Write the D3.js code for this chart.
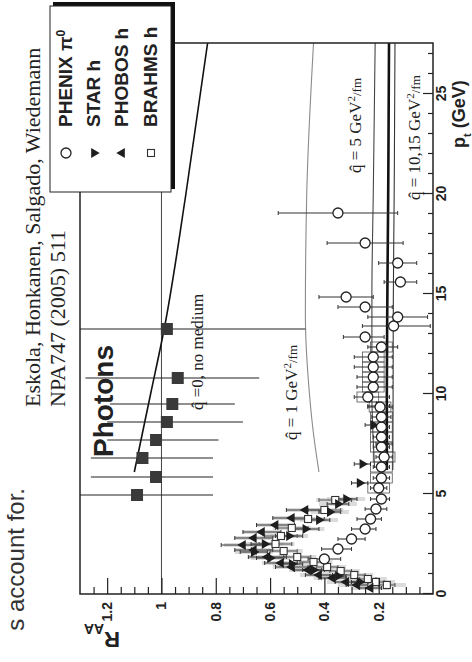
<!DOCTYPE html>
<html>
<head>
<meta charset="utf-8">
<script src="https://cdn.jsdelivr.net/npm/d3@7"></script>
<style>
body { margin: 0; background: #fff; }
svg { display: block; }
.serif { font-family: "Liberation Serif", "DejaVu Serif", serif; fill: #222; }
.sans { font-family: "Liberation Sans", Arial, sans-serif; font-weight: bold; fill: #222; }
</style>
</head>
<body>
<svg id="chart" width="472" height="662"></svg>
<script>
// ---- data (pT in GeV, R_AA) ----
var photonPt = [4.95, 5.85, 6.8, 7.7, 8.6, 9.5, 10.8, 13.25];
var photonR  = [1.09, 1.02, 1.07, 1.02, 0.98, 0.96, 0.94, 0.98];
var photonLo = [0.81, 0.81, 0.81, 0.79, 0.70, 0.73, 0.64, 0.47];
var photonHi = [1.40, 1.26, 1.26, 1.20, 1.20, 1.19, 1.28, 1.40];

var phenixPt = [1.75, 2.25, 2.75, 3.25, 3.75, 4.25, 4.75, 5.3, 5.8, 6.35, 6.85, 7.35, 7.85, 8.35, 8.85, 9.35, 9.85,
	10.35, 10.85, 11.35, 11.85, 12.35, 12.85, 13.4, 13.85, 14.35, 14.85, 15.6, 16.55, 17.55, 19.05];
var phenixR  = [0.40, 0.35, 0.30, 0.25, 0.23, 0.21, 0.19, 0.20, 0.19, 0.19, 0.18, 0.19, 0.19, 0.19, 0.19, 0.195, 0.24,
	0.22, 0.22, 0.22, 0.22, 0.19, 0.25, 0.145, 0.13, 0.25, 0.32, 0.12, 0.13, 0.25, 0.35];
var phenixLo = [0.34, 0.30, 0.25, 0.21, 0.19, 0.17, 0.16, 0.17, 0.16, 0.16, 0.15, 0.16, 0.16, 0.16, 0.155, 0.15, 0.16,
	0.15, 0.15, 0.15, 0.15, 0.13, 0.18, 0.01, 0.02, 0.15, 0.22, 0.06, 0.06, 0.11, 0.13];
var phenixHi = [0.46, 0.41, 0.35, 0.30, 0.28, 0.25, 0.23, 0.23, 0.22, 0.22, 0.21, 0.22, 0.22, 0.22, 0.225, 0.24, 0.29,
	0.28, 0.28, 0.29, 0.29, 0.24, 0.33, 0.26, 0.24, 0.35, 0.42, 0.18, 0.20, 0.39, 0.57];

var starPt  = [0.6, 0.9, 1.2, 1.5, 1.8, 2.1, 2.5, 2.9, 3.25, 3.7, 4.1, 4.5, 4.75, 5.55, 6.5, 7.5, 8.45, 9.4];
var starR   = [0.27, 0.35, 0.44, 0.52, 0.60, 0.66, 0.62, 0.53, 0.47, 0.42, 0.38, 0.35, 0.32, 0.27, 0.26, 0.18, 0.22, 0.20];
var starErr = [0.03, 0.03, 0.04, 0.04, 0.05, 0.05, 0.05, 0.05, 0.05, 0.04, 0.04, 0.04, 0.04, 0.03, 0.03, 0.03, 0.03, 0.04];

var phobosPt  = [0.3, 0.45, 0.6, 0.8, 0.95, 1.2, 1.35, 1.55, 1.85, 2.2, 2.45, 2.8, 3.1, 3.45, 3.8, 4.2];
var phobosR   = [0.23, 0.28, 0.32, 0.37, 0.42, 0.46, 0.52, 0.56, 0.61, 0.66, 0.70, 0.66, 0.63, 0.58, 0.52, 0.47];
var phobosErr = [0.04, 0.04, 0.04, 0.05, 0.05, 0.05, 0.06, 0.06, 0.07, 0.07, 0.08, 0.07, 0.07, 0.07, 0.07, 0.07];

var brahmsPt  = [0.45, 0.6, 0.75, 0.95, 1.15, 1.35, 1.6, 1.85, 2.15, 2.5, 2.9, 3.3, 3.75, 4.2, 4.7];
var brahmsR   = [0.17, 0.21, 0.24, 0.29, 0.34, 0.39, 0.44, 0.50, 0.55, 0.58, 0.56, 0.52, 0.46, 0.40, 0.36];
var brahmsErr = [0.03, 0.03, 0.03, 0.04, 0.04, 0.04, 0.05, 0.05, 0.05, 0.06, 0.06, 0.06, 0.06, 0.06, 0.06];

// theory curves
var noMedPt = [6.1, 10, 13.25, 20, 27.55];
var noMedR  = [1.10, 1.04, 0.99, 0.91, 0.83];
var q1Pt = [6.1, 8, 10, 14, 20, 27.55];
var q1R  = [0.42, 0.44, 0.455, 0.47, 0.465, 0.44];
var q5Pt = [6.3, 10, 15, 20, 27.55];
var q5R  = [0.215, 0.225, 0.225, 0.22, 0.213];
var q10Pt = [6.2, 10, 15, 20, 27.55];
var q10R  = [0.17, 0.17, 0.168, 0.165, 0.162];
var q15Pt = [6.2, 10, 15, 20, 27.55];
var q15R  = [0.148, 0.147, 0.146, 0.143, 0.14];

var ptMajor = [0, 5, 10, 15, 20, 25];
var rMajor = [0.2, 0.4, 0.6, 0.8, 1, 1.2];
var legendNames = ["PHENIX \u03c0", "STAR h", "PHOBOS h", "BRAHMS h"];

// ---- chart ----
var svg = d3.select("#chart");
var W = 551, H = 353;
var x = d3.scaleLinear().domain([0, 27.55]).range([0, W]);
var y = d3.scaleLinear().domain([0, 1.3]).range([H, 0]);

// slide shows the figure turned on its side: draw it upright then rotate 90deg ccw
var g = svg.append("g").attr("transform", "translate(80,594) rotate(-90)");

g.append("defs").append("clipPath").attr("id", "plotclip")
	.append("rect").attr("width", W).attr("height", H);

var zip = function(a, b, c, d) {
	return a.map(function(v, i) { return {pt: v, r: b[i], lo: c ? c[i] : null, hi: d ? d[i] : null}; });
};
var symErr = function(a, b, e) {
	return a.map(function(v, i) { return {pt: v, r: b[i], lo: b[i] - e[i], hi: b[i] + e[i]}; });
};

var photons = zip(photonPt, photonR, photonLo, photonHi);
var phenix = zip(phenixPt, phenixR, phenixLo, phenixHi);
var star = symErr(starPt, starR, starErr);
var phobos = symErr(phobosPt, phobosR, phobosErr);
var brahms = symErr(brahmsPt, brahmsR, brahmsErr);

var plot = g.append("g").attr("clip-path", "url(#plotclip)");

// gray systematic boxes of the low pT hadrons
plot.selectAll(".sysbox").data(phobos.concat(star.filter(d => d.pt < 5), brahms)).enter()
	.append("rect").classed("sysbox", true)
	.attr("x", d => x(d.pt - 0.1))
	.attr("width", x(0.2) - x(0))
	.attr("y", d => y(d.r + 0.07))
	.attr("height", y(0) - y(0.14))
	.style("fill", "#bdbdbd").style("opacity", 0.55);

// PHENIX boxes
plot.selectAll(".pbox").data(phenix.filter(d => d.pt > 5 && d.pt < 12.5)).enter()
	.append("rect").classed("pbox", true)
	.attr("x", d => x(d.pt - 0.25))
	.attr("width", x(0.5) - x(0))
	.attr("y", d => y(d.r + 0.04))
	.attr("height", y(0) - y(0.08))
	.style("fill", "none").style("stroke", "#555").style("stroke-width", 0.8);

// R_AA = 1 reference
plot.append("line")
	.attr("x1", 0).attr("x2", W).attr("y1", y(1)).attr("y2", y(1))
	.style("stroke", "#444").style("stroke-width", 1);

// theory curves
var curve = d3.line().x(d => x(d[0])).y(d => y(d[1])).curve(d3.curveMonotoneX);
var pairs = function(a, b) { return a.map((v, i) => [v, b[i]]); };
var theory = [
	{p: pairs(noMedPt, noMedR), c: "#111", w: 1.6},
	{p: pairs(q1Pt, q1R), c: "#8a8a8a", w: 1.1},
	{p: pairs(q5Pt, q5R), c: "#444", w: 1.1},
	{p: pairs(q10Pt, q10R), c: "#111", w: 2.6},
	{p: pairs(q15Pt, q15R), c: "#333", w: 1.1}
];
plot.selectAll(".theory").data(theory).enter()
	.append("path").classed("theory", true)
	.attr("d", d => curve(d.p))
	.style("fill", "none")
	.style("stroke", d => d.c)
	.style("stroke-width", d => d.w);

// error bars
var drawBars = function(data, cls, cap, col) {
	var bars = plot.selectAll("." + cls).data(data).enter().append("g").classed(cls, true);
	bars.append("line")
		.attr("x1", d => x(d.pt)).attr("x2", d => x(d.pt))
		.attr("y1", d => y(d.lo)).attr("y2", d => y(Math.min(d.hi, 1.3)))
		.style("stroke", col).style("stroke-width", 1.1);
	if (cap) {
		["lo", "hi"].forEach(function(k) {
			bars.append("line")
				.attr("x1", d => x(d.pt) - cap).attr("x2", d => x(d.pt) + cap)
				.attr("y1", d => y(d[k])).attr("y2", d => y(d[k]))
				.style("stroke", col).style("stroke-width", 1);
		});
	}
};
drawBars(photons, "pbar", 0, "#222");
drawBars(phobos, "phbar", 2, "#333");
drawBars(star, "sbar", 2, "#333");
drawBars(brahms, "bbar", 2, "#555");
drawBars(phenix, "xbar", 2, "#333");

// markers
var tri = d3.symbol().type(d3.symbolTriangle).size(42);
var drawMarkers = function(sel, data, kind) {
	var m = sel.selectAll(".m" + kind).data(data).enter();
	if (kind == "phenix") {
		m.append("circle").attr("cx", d => x(d.pt)).attr("cy", d => y(d.r)).attr("r", 5)
			.style("fill", "#fff").style("stroke", "#222").style("stroke-width", 1.3);
	} else if (kind == "star" || kind == "phobos") {
		m.append("path").attr("d", tri)
			.attr("transform", d => "translate(" + x(d.pt) + "," + y(d.r) + ")" + (kind == "star" ? " rotate(180)" : ""))
			.style("fill", "#1e1e1e");
	} else if (kind == "brahms") {
		m.append("rect").attr("x", d => x(d.pt) - 3.5).attr("y", d => y(d.r) - 3.5)
			.attr("width", 7).attr("height", 7)
			.style("fill", "#fff").style("stroke", "#333").style("stroke-width", 1.1);
	} else {
		m.append("rect").attr("x", d => x(d.pt) - 6).attr("y", d => y(d.r) - 6)
			.attr("width", 12).attr("height", 12)
			.style("fill", "#3a3a3a");
	}
};
drawMarkers(plot, brahms, "brahms");
drawMarkers(plot, phobos, "phobos");
drawMarkers(plot, star, "star");
drawMarkers(plot, phenix, "phenix");
drawMarkers(plot, photons, "photon");

// frame
g.append("rect").attr("width", W).attr("height", H)
	.style("fill", "none").style("stroke", "#222").style("stroke-width", 1.5);

// axes, ticks point inwards
var styleAxis = function(a) {
	a.select(".domain").remove();
	a.selectAll("line").style("stroke", "#222").style("stroke-width", 1.2);
	a.selectAll("text").attr("class", "sans").style("font-size", "14px");
};
g.append("g").attr("transform", "translate(0," + H + ")")
	.call(d3.axisBottom(x).tickValues(ptMajor).tickSize(-10).tickPadding(3))
	.call(styleAxis);
g.append("g").attr("transform", "translate(0," + H + ")")
	.call(d3.axisBottom(x).tickValues(d3.range(1, 28).filter(v => v % 5)).tickSize(-5).tickFormat(""))
	.call(styleAxis);
g.append("g")
	.call(d3.axisLeft(y).tickValues(rMajor).tickSize(-16).tickPadding(8)
		.tickFormat(d => d == 1 ? "1" : d3.format(".1f")(d)))
	.call(styleAxis);
g.append("g")
	.call(d3.axisLeft(y).tickValues(d3.range(1, 26).map(v => v * 0.05).filter(v => Math.abs(v * 5 - Math.round(v * 5)) > 0.01))
		.tickSize(-7).tickFormat(""))
	.call(styleAxis);

// axis titles
var rl = g.append("text").attr("class", "sans")
	.attr("transform", "translate(-38,40) rotate(-90)")
	.style("font-size", "22px");
rl.append("tspan").text("R");
rl.append("tspan").attr("baseline-shift", "sub").style("font-size", "14px").text("AA");

var pl = g.append("text").attr("class", "sans")
	.attr("x", 446).attr("y", 385)
	.style("font-size", "18px");
pl.append("tspan").text("p");
pl.append("tspan").attr("baseline-shift", "sub").style("font-size", "11px").text("t");
pl.append("tspan").text(" (GeV)");

// annotations
g.append("text").attr("class", "serif").attr("x", 187).attr("y", -40)
	.style("font-size", "22px").text("Eskola, Honkanen, Salgado, Wiedemann");
g.append("text").attr("class", "serif").attr("x", 187).attr("y", -15)
	.style("font-size", "22px").text("NPA747 (2005) 511");
g.append("text").attr("class", "sans").attr("x", 137).attr("y", 33)
	.style("font-size", "28px").text("Photons");

var qlabel = function(xo, yo, val, unit) {
	var t = g.append("text").attr("class", "serif").attr("x", xo).attr("y", yo).style("font-size", "17px");
	t.append("tspan").text("q\u0302 = " + val + (unit ? " GeV" : ""));
	if (unit) {
		t.append("tspan").attr("baseline-shift", "super").style("font-size", "11px").text("2");
		t.append("tspan").style("font-size", "13px").text("/fm");
	}
};
g.append("text").attr("class", "serif").attr("x", 184).attr("y", 123)
	.style("font-size", "17px").text("q\u0302 =0, no medium");
qlabel(154, 217, "1", true);
qlabel(421, 281, "5", true);
qlabel(394, 340, "10,15", true);

// legend with drop shadow
var leg = g.append("g");
leg.append("rect").attr("x", 405).attr("y", -27).attr("width", 187).attr("height", 122).style("fill", "#111");
leg.append("rect").attr("x", 402).attr("y", -30).attr("width", 186).attr("height", 121)
	.style("fill", "#fff").style("stroke", "#222").style("stroke-width", 1);
var legY = [-8, 20, 48, 77];
var legKinds = ["phenix", "star", "phobos", "brahms"];
legKinds.forEach(function(k, i) {
	var lg = leg.append("g");
	drawMarkers(lg, [{pt: x.invert(441), r: y.invert(legY[i] - 6)}], k);
	var t = lg.append("text").attr("class", "sans").attr("x", 467).attr("y", legY[i]).style("font-size", "19px");
	t.append("tspan").text(legendNames[i]);
	if (i == 0) t.append("tspan").attr("baseline-shift", "super").style("font-size", "12px").text("0");
});

// slide text running along the left edge
svg.append("text").attr("class", "sans")
	.attr("transform", "translate(24,488) rotate(-90)")
	.attr("text-anchor", "end")
	.style("font-size", "24px").style("font-weight", "normal").style("fill", "#333")
	.text("s account for.");
</script>
</body>
</html>
